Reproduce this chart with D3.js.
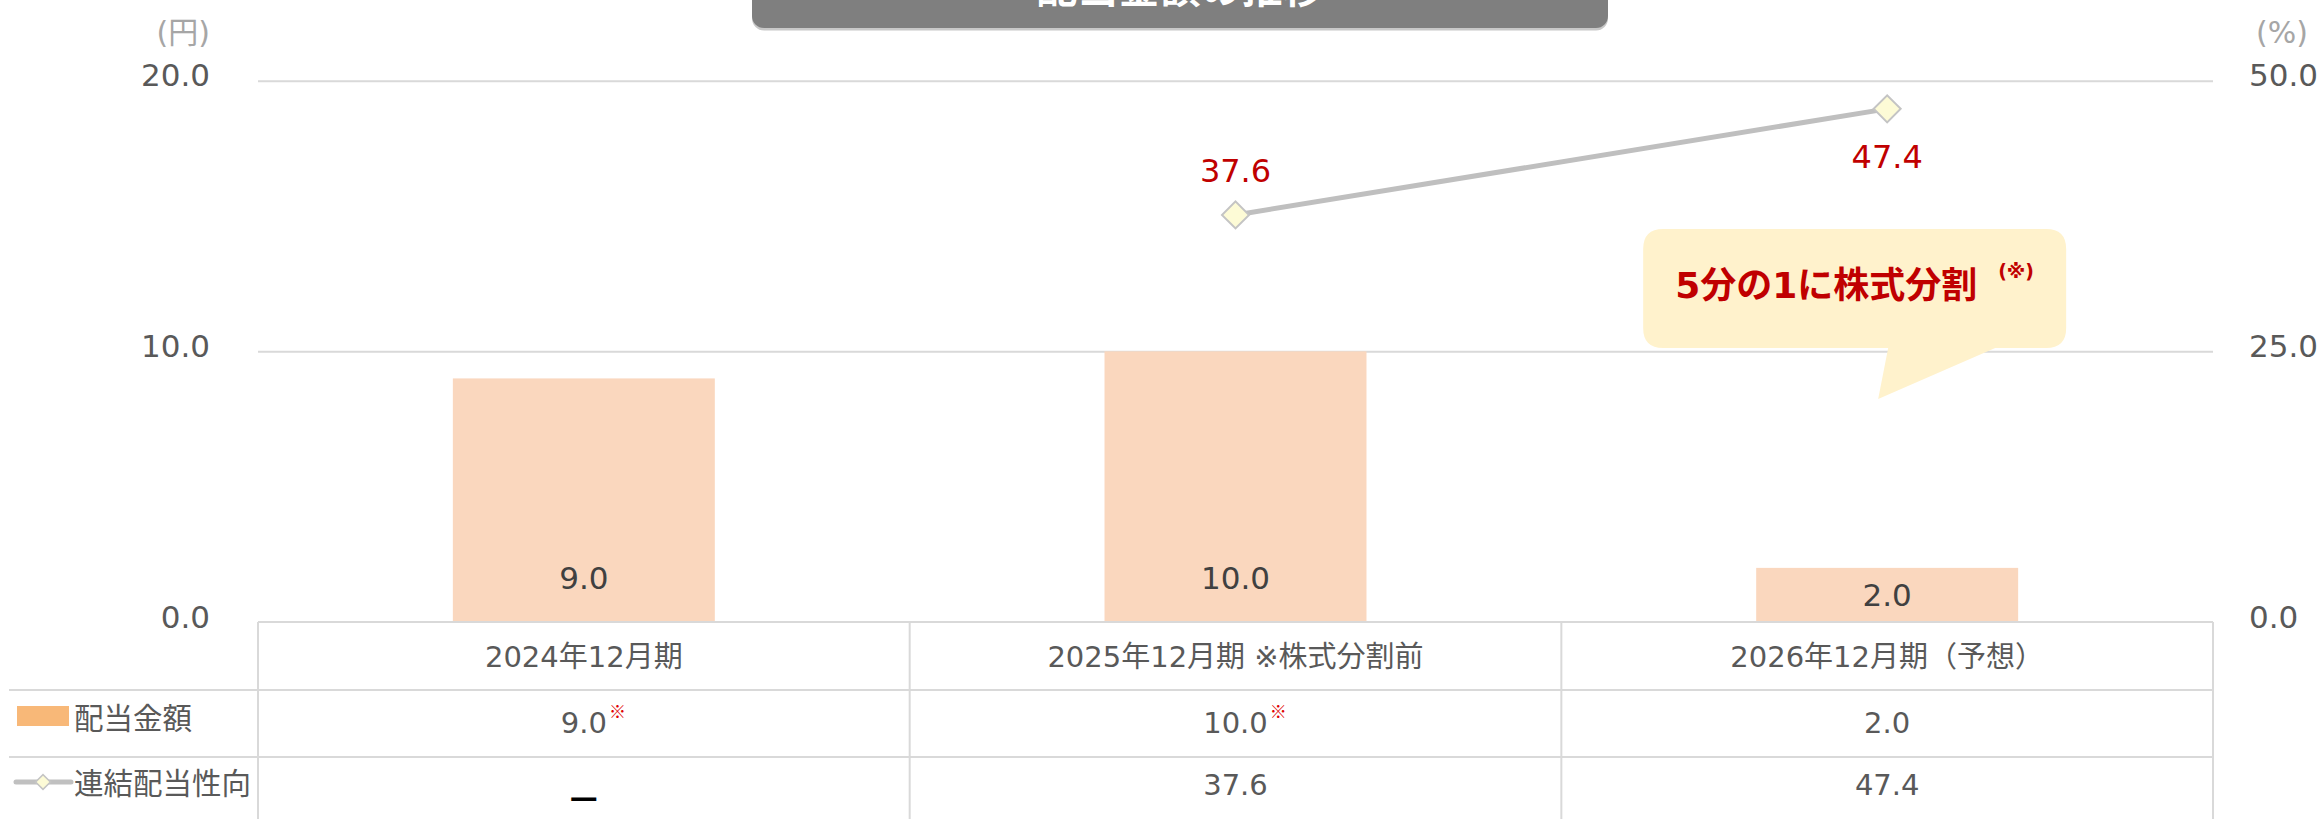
<!DOCTYPE html>
<html>
<head>
<meta charset="utf-8">
<script src="https://cdn.jsdelivr.net/npm/d3@7"></script>
<style>
body{margin:0;background:#fff;}
svg{display:block;}
text{font-family:"DejaVu Sans","Noto Sans CJK JP",sans-serif;}
</style>
</head>
<body>
<svg></svg>
<script>
// data
var categories = ["2024年12月期", "2025年12月期 ※株式分割前", "2026年12月期（予想）"];
var dividend = [9.0, 10.0, 2.0];
var payoutRatio = [null, 37.6, 47.4];
var dividendText = ["9.0", "10.0", "2.0"];
var dividendNote = ["※", "※", ""];
var payoutText = ["—", "37.6", "47.4"];
var leftTicks = [0, 10, 20];
var rightTicks = [0, 25, 50];
var seriesNames = ["配当金額", "連結配当性向"];
var chartTitle = "配当金額の推移";
var calloutText = "5分の1に株式分割";

var width = 2320;
var height = 819;
var plotLeft = 258, plotRight = 2213, plotTop = 80.7, base = 622;

var svg = d3.select("svg")
  .attr("width", width)
  .attr("height", height);

var x = d3.scaleBand().domain(categories).range([plotLeft, plotRight]);
var yL = d3.scaleLinear().domain([0, 20]).range([base, plotTop]);
var yR = d3.scaleLinear().domain([0, 50]).range([base, plotTop]);
var bw = x.bandwidth();
var barW = bw * 0.402;
var cx = function(c){ return x(c) + bw / 2; };
var fmt = d3.format(".1f");

// gridlines
var grid = svg.append("g")
  .attr("transform", "translate(" + plotLeft + ",0)")
  .call(d3.axisLeft(yL).tickValues(leftTicks.slice(1)).tickSize(-(plotRight - plotLeft)).tickFormat(""));
grid.select(".domain").remove();
grid.selectAll("line").attr("stroke", "#d9d9d9").attr("stroke-width", 2);

// left axis
var axL = svg.append("g")
  .attr("transform", "translate(" + plotLeft + ",0)")
  .call(d3.axisLeft(yL).tickValues(leftTicks).tickFormat(fmt).tickSize(0).tickPadding(48));
axL.select(".domain").remove();
axL.selectAll("text").attr("font-size", 31).attr("fill", "#595959").attr("dy", "0.17em")
  .style("font-family", "DejaVu Sans");

// right axis
var axR = svg.append("g")
  .attr("transform", "translate(" + plotRight + ",0)")
  .call(d3.axisRight(yR).tickValues(rightTicks).tickFormat(fmt).tickSize(0).tickPadding(36));
axR.select(".domain").remove();
axR.selectAll("text").attr("font-size", 31).attr("fill", "#595959").attr("dy", "0.17em")
  .style("font-family", "DejaVu Sans");

// units
svg.append("text").text("(円)")
  .attr("x", 210).attr("y", 43).attr("text-anchor", "end")
  .attr("font-size", 30).attr("fill", "#a6a6a6");
svg.append("text").text("(%)")
  .attr("x", 2256).attr("y", 43)
  .attr("font-size", 30).attr("fill", "#a6a6a6");

// bars
svg.selectAll("rect.bar")
  .data(dividend)
  .enter()
  .append("rect")
  .attr("class", "bar")
  .attr("x", function(d, i){ return x(categories[i]) + (bw - barW) / 2; })
  .attr("y", function(d){ return yL(d); })
  .attr("width", barW)
  .attr("height", function(d){ return base - yL(d); })
  .attr("fill", "#fad7be");

// bar labels
svg.selectAll("text.barlab")
  .data(dividend)
  .enter()
  .append("text")
  .attr("class", "barlab")
  .text(function(d){ return fmt(d); })
  .attr("x", function(d, i){ return cx(categories[i]); })
  .attr("y", function(d){ return Math.max(yL(d) + (base - yL(d)) / 2, 578); })
  .attr("dy", "0.36em")
  .attr("text-anchor", "middle")
  .attr("font-size", 31)
  .attr("fill", "#404040");

// payout ratio line
var line = d3.line()
  .defined(function(d){ return d != null; })
  .x(function(d, i){ return cx(categories[i]); })
  .y(function(d){ return yR(d); });

svg.append("path")
  .datum(payoutRatio)
  .attr("d", line)
  .attr("fill", "none")
  .attr("stroke", "#bfbfbf")
  .attr("stroke-width", 5);

var pts = payoutRatio.map(function(d, i){ return {v: d, i: i}; })
  .filter(function(d){ return d.v != null; });

svg.selectAll("path.mark")
  .data(pts)
  .enter()
  .append("path")
  .attr("class", "mark")
  .attr("d", d3.symbol(d3.symbolSquare, 365))
  .attr("transform", function(d){ return "translate(" + cx(categories[d.i]) + "," + yR(d.v) + ") rotate(45)"; })
  .attr("fill", "#fdfbd6")
  .attr("stroke", "#c4c4c4")
  .attr("stroke-width", 2);

svg.selectAll("text.linelab")
  .data(pts)
  .enter()
  .append("text")
  .attr("class", "linelab")
  .text(function(d){ return fmt(d.v); })
  .attr("x", function(d){ return cx(categories[d.i]); })
  .attr("y", function(d){ return yR(d.v) + (d.i === payoutRatio.length - 1 ? 48 : -44); })
  .attr("dy", "0.36em")
  .attr("text-anchor", "middle")
  .attr("font-size", 32)
  .attr("fill", "#c00000");

// callout bubble
var c3 = cx(categories[2]);
var bx0 = c3 - 244, bx1 = c3 + 179, by0 = 229, by1 = 348, r = 20;
svg.append("path")
  .attr("d", "M" + (bx0 + r) + "," + by0 +
    " H" + (bx1 - r) + " Q" + bx1 + "," + by0 + " " + bx1 + "," + (by0 + r) +
    " V" + (by1 - r) + " Q" + bx1 + "," + by1 + " " + (bx1 - r) + "," + by1 +
    " H" + (c3 + 108) + " L" + (c3 - 9) + ",399 L" + (c3 + 1) + "," + by1 +
    " H" + (bx0 + r) + " Q" + bx0 + "," + by1 + " " + bx0 + "," + (by1 - r) +
    " V" + (by0 + r) + " Q" + bx0 + "," + by0 + " " + (bx0 + r) + "," + by0 + " Z")
  .attr("fill", "#fff2cc");
svg.append("text").text(calloutText)
  .attr("x", bx0 + 32).attr("y", 285).attr("dy", "0.37em")
  .attr("font-size", 36).attr("font-weight", "bold").attr("fill", "#c00000");
svg.append("text").text("(※)")
  .attr("x", bx0 + 355).attr("y", 271).attr("dy", "0.36em")
  .attr("font-size", 19).attr("font-weight", "bold").attr("fill", "#c00000");

// title box
svg.append("rect")
  .attr("x", 752).attr("y", -30).attr("width", 856).attr("height", 60.5)
  .attr("rx", 12).attr("fill", "#c8c8c8");
svg.append("rect")
  .attr("x", 752).attr("y", -30).attr("width", 856).attr("height", 58)
  .attr("rx", 12).attr("fill", "#7f7f7f");
svg.append("text").text(chartTitle)
  .attr("x", 1180).attr("y", 3).attr("text-anchor", "middle")
  .attr("font-size", 41).attr("font-weight", "bold").attr("fill", "#fff")
  .style("font-family", "Noto Sans CJK JP");

// data table
var rowY = [base, 690, 757, 830];
var tbl = svg.append("g").attr("stroke", "#d9d9d9").attr("stroke-width", 2);
tbl.append("line").attr("x1", plotLeft).attr("x2", plotRight).attr("y1", base).attr("y2", base);
tbl.selectAll("line.hr")
  .data(rowY.slice(1, 3))
  .enter()
  .append("line")
  .attr("x1", 9).attr("x2", plotRight)
  .attr("y1", function(d){ return d; }).attr("y2", function(d){ return d; });
tbl.selectAll("line.vr")
  .data(categories.map(function(c){ return x(c); }).concat([plotRight]))
  .enter()
  .append("line")
  .attr("x1", function(d){ return d; }).attr("x2", function(d){ return d; })
  .attr("y1", base).attr("y2", rowY[3]);

// header row
svg.selectAll("text.head")
  .data(categories)
  .enter()
  .append("text")
  .attr("class", "head")
  .text(function(d){ return d; })
  .attr("x", function(d){ return cx(d); })
  .attr("y", 656)
  .attr("dy", "0.37em")
  .attr("text-anchor", "middle")
  .attr("font-size", 29)
  .attr("fill", "#595959");

// dividend row
svg.selectAll("text.r1")
  .data(dividendText)
  .enter()
  .append("text")
  .attr("class", "r1")
  .text(function(d){ return d; })
  .attr("x", function(d, i){ return cx(categories[i]); })
  .attr("y", 723)
  .attr("dy", "0.36em")
  .attr("text-anchor", "middle")
  .attr("font-size", 29)
  .attr("fill", "#595959")
  .each(function(d, i){
    if (!dividendNote[i]) return;
    var w = this.getComputedTextLength();
    svg.append("text").text(dividendNote[i])
      .attr("x", cx(categories[i]) + w / 2 + 2)
      .attr("y", 718)
      .attr("font-size", 17)
      .attr("fill", "#e00000")
      .style("font-family", "Noto Sans CJK JP");
  });

// payout row
svg.selectAll("text.r2")
  .data(payoutText)
  .enter()
  .append("text")
  .attr("class", "r2")
  .text(function(d){ return d; })
  .attr("x", function(d, i){ return cx(categories[i]); })
  .attr("y", function(d, i){ return payoutRatio[i] == null ? 799 : 785; })
  .attr("dy", function(d, i){ return payoutRatio[i] == null ? "0.3em" : "0.36em"; })
  .attr("text-anchor", "middle")
  .attr("font-size", function(d, i){ return payoutRatio[i] == null ? 28 : 29; })
  .attr("font-weight", function(d, i){ return payoutRatio[i] == null ? "bold" : "normal"; })
  .attr("fill", function(d, i){ return payoutRatio[i] == null ? "#000" : "#595959"; });

// legend cells
svg.append("rect")
  .attr("x", 17).attr("y", 706).attr("width", 52).attr("height", 20)
  .attr("fill", "#f8b878");
svg.append("line")
  .attr("x1", 16).attr("x2", 71).attr("y1", 782).attr("y2", 782)
  .attr("stroke", "#c0c0c0").attr("stroke-width", 5).attr("stroke-linecap", "round");
svg.append("path")
  .attr("d", d3.symbol(d3.symbolSquare, 110))
  .attr("transform", "translate(43,782) rotate(45)")
  .attr("fill", "#fdfbd6").attr("stroke", "#c4c4c4").attr("stroke-width", 1.5);
svg.selectAll("text.leg")
  .data(seriesNames)
  .enter()
  .append("text")
  .attr("class", "leg")
  .text(function(d){ return d; })
  .attr("x", 74)
  .attr("y", function(d, i){ return i === 0 ? 718 : 783; })
  .attr("dy", "0.38em")
  .attr("font-size", 29.5)
  .attr("fill", "#595959");
</script>
</body>
</html>
